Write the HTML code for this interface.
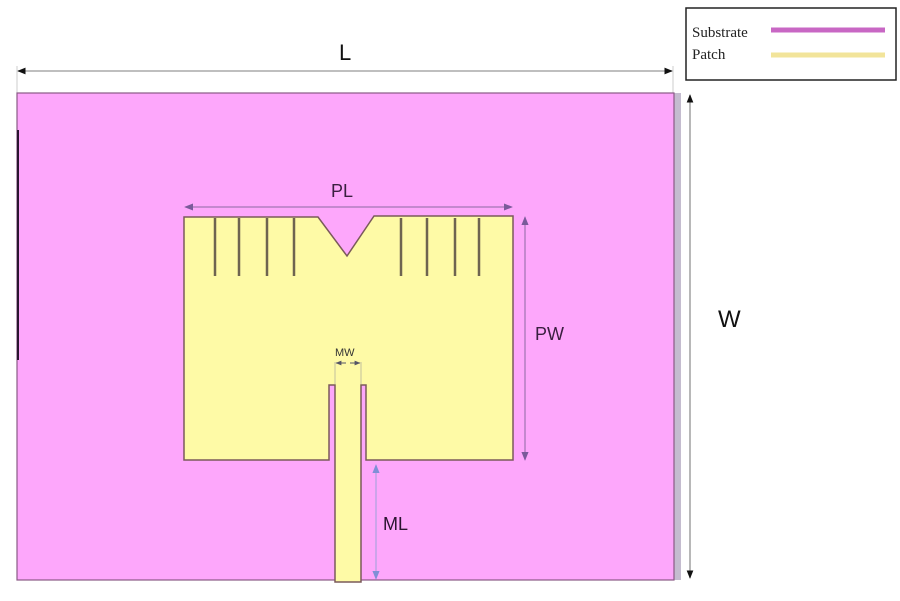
<!DOCTYPE html>
<html><head><meta charset="utf-8"><style>
html,body{margin:0;padding:0;background:#fff;width:900px;height:601px;overflow:hidden}
svg{display:block}
text{font-family:"Liberation Sans",sans-serif}
</style></head><body>
<svg width="900" height="601" viewBox="0 0 900 601" xmlns="http://www.w3.org/2000/svg">
<defs>
<marker id="ab" viewBox="0 0 10 10" refX="9" refY="5" markerWidth="7" markerHeight="7" orient="auto-start-reverse"><path d="M0,1 L10,5 L0,9 z" fill="#111"/></marker>
<marker id="ap" viewBox="0 0 10 10" refX="9" refY="5" markerWidth="9" markerHeight="9" orient="auto-start-reverse"><path d="M0,1 L10,5 L0,9 z" fill="#7a5a9a"/></marker>
<marker id="abl" viewBox="0 0 10 10" refX="9" refY="5" markerWidth="9" markerHeight="9" orient="auto-start-reverse"><path d="M0,1 L10,5 L0,9 z" fill="#7f8fd6"/></marker>
<marker id="ag" viewBox="0 0 10 10" refX="9" refY="5" markerWidth="6" markerHeight="6" orient="auto-start-reverse"><path d="M0,1 L10,5 L0,9 z" fill="#556"/></marker>
</defs>
<line x1="17" y1="66" x2="17" y2="93" stroke="#ccc" stroke-width="1"/>
<line x1="673" y1="66" x2="673" y2="93" stroke="#ccc" stroke-width="1"/>
<line x1="18" y1="71" x2="672" y2="71" stroke="#999" stroke-width="1.2" marker-start="url(#ab)" marker-end="url(#ab)"/>
<text x="339" y="60" font-size="22" fill="#111">L</text>
<rect x="674" y="93" width="7" height="487" fill="#c4bccf"/>
<rect x="17" y="93" width="657" height="487" fill="#fda7fb" stroke="#8a5a86" stroke-width="1.2"/>
<line x1="18" y1="130" x2="18" y2="360" stroke="#2a1530" stroke-width="2"/>
<line x1="690" y1="95" x2="690" y2="578" stroke="#888" stroke-width="1.2" marker-start="url(#ab)" marker-end="url(#ab)"/>
<text x="718" y="327" font-size="24" fill="#111">W</text>
<path d="M184,217 L318,217 L347,256 L374,216 L513,216 L513,460 L366,460 L366,385 L361,385 L361,582 L335,582 L335,385 L329,385 L329,460 L184,460 Z" fill="#fefaa6" stroke="#7a5a5a" stroke-width="1.5"/>
<g stroke="#6e6450" stroke-width="2.5">
<line x1="215" y1="218" x2="215" y2="276"/>
<line x1="239" y1="218" x2="239" y2="276"/>
<line x1="267" y1="218" x2="267" y2="276"/>
<line x1="294" y1="218" x2="294" y2="276"/>
<line x1="401" y1="218" x2="401" y2="276"/>
<line x1="427" y1="218" x2="427" y2="276"/>
<line x1="455" y1="218" x2="455" y2="276"/>
<line x1="479" y1="218" x2="479" y2="276"/>
</g>
<line x1="185" y1="207" x2="512" y2="207" stroke="#8a6aa0" stroke-width="1" marker-start="url(#ap)" marker-end="url(#ap)"/>
<text x="331" y="197" font-size="18" fill="#3a1f40">PL</text>
<line x1="525" y1="217" x2="525" y2="460" stroke="#8a6aa0" stroke-width="1" marker-start="url(#ap)" marker-end="url(#ap)"/>
<text x="535" y="340" font-size="18" fill="#3a1f40">PW</text>
<line x1="335" y1="362" x2="335" y2="384" stroke="#999" stroke-width="0.6"/>
<line x1="361" y1="362" x2="361" y2="384" stroke="#999" stroke-width="0.6"/>
<line x1="336" y1="363" x2="346" y2="363" stroke="#556" stroke-width="1" marker-start="url(#ag)"/>
<line x1="350" y1="363" x2="360" y2="363" stroke="#556" stroke-width="1" marker-end="url(#ag)"/>
<text x="335" y="356" font-size="11" fill="#333">MW</text>
<line x1="376" y1="465" x2="376" y2="579" stroke="#9aa2da" stroke-width="1" marker-start="url(#abl)" marker-end="url(#abl)"/>
<text x="383" y="530" font-size="18" fill="#2a1530">ML</text>
<rect x="686" y="8" width="210" height="72" fill="#fff" stroke="#222" stroke-width="1.5"/>
<text x="692" y="37" font-size="15" fill="#222" style="font-family:'Liberation Serif',serif">Substrate</text>
<text x="692" y="59" font-size="15" fill="#222" style="font-family:'Liberation Serif',serif">Patch</text>
<line x1="771" y1="30" x2="885" y2="30" stroke="#c867c4" stroke-width="5"/>
<line x1="771" y1="55" x2="885" y2="55" stroke="#f2e49a" stroke-width="5"/>
</svg>
</body></html>
